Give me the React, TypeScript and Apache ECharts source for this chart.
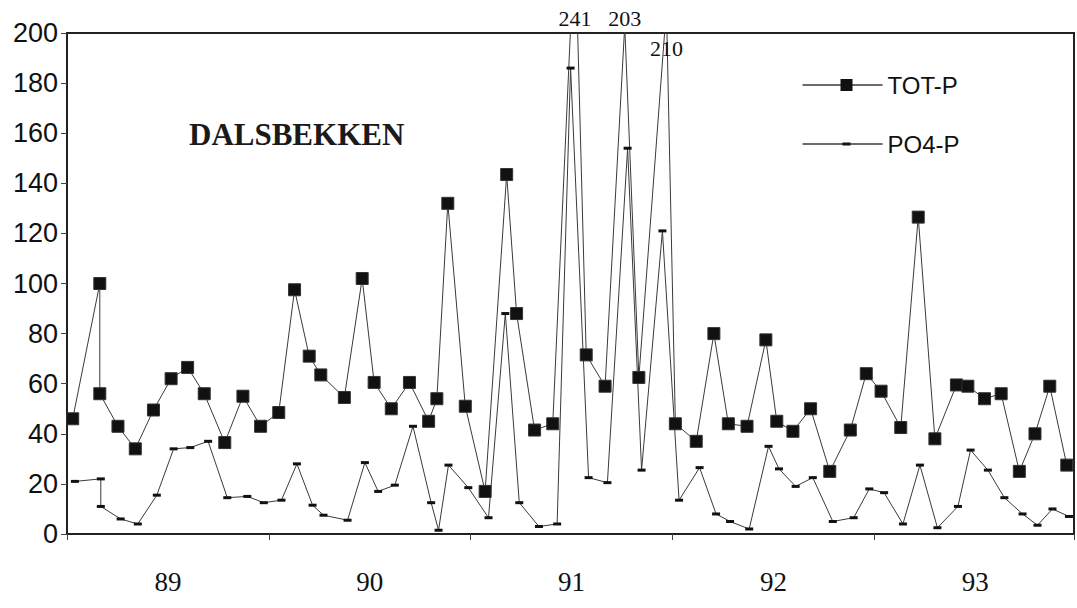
import React, { useEffect, useRef } from "react";
import * as echarts from "echarts";

// x = months since January 1989
const TOT_MONTH = [0.34, 1.95, 1.95, 3.03, 4.06, 5.14, 6.19, 7.17, 8.16, 9.38, 10.46, 11.51, 12.59, 13.53, 14.4, 15.09, 16.49, 17.55, 18.26, 19.28, 20.36, 21.5, 21.99, 22.64, 23.68, 24.86, 26.14, 26.73, 27.8, 28.88, 30.2, 30.87, 31.99, 33.16, 34.0, 35.64, 36.17, 37.41, 38.46, 39.32, 40.43, 41.55, 42.2, 43.16, 44.21, 45.35, 46.57, 47.52, 48.4, 49.57, 50.61, 51.6, 52.88, 53.56, 54.55, 55.54, 56.62, 57.55, 58.43, 59.44];
const TOT_P = [46, 100, 56, 43, 34, 49.5, 62, 66.5, 56, 36.5, 55, 43, 48.5, 97.5, 71, 63.5, 54.5, 102, 60.5, 50, 60.5, 45, 54, 132, 51, 17, 143.5, 88, 41.5, 44, 241, 71.5, 59, 203, 62.5, 210, 44, 37, 80, 44, 43, 77.5, 45, 41, 50, 25, 41.5, 64, 57, 42.5, 126.5, 38, 59.5, 59, 54, 56, 25, 40, 59, 27.5];

const PO4_MONTH = [0.47, 2.01, 2.01, 3.19, 4.21, 5.34, 6.34, 7.33, 8.39, 9.53, 10.72, 11.7, 12.75, 13.67, 14.6, 15.25, 16.68, 17.71, 18.5, 19.49, 20.57, 21.65, 22.09, 22.68, 23.86, 25.06, 26.06, 26.89, 28.06, 29.14, 29.94, 31.01, 32.13, 33.33, 34.16, 35.4, 36.39, 37.61, 38.59, 39.42, 40.56, 41.71, 42.33, 43.32, 44.34, 45.53, 46.77, 47.7, 48.58, 49.7, 50.71, 51.75, 52.97, 53.72, 54.75, 55.73, 56.81, 57.7, 58.59, 59.57];
const PO4_P = [21, 22, 11, 6, 4, 15.5, 34, 34.5, 37, 14.5, 15, 12.5, 13.5, 28, 11.5, 7.5, 5.5, 28.5, 17, 19.5, 43, 12.5, 1.5, 27.5, 18.5, 6.5, 88, 12.5, 3, 4, 186, 22.5, 20.5, 154, 25.5, 121, 13.5, 26.5, 8, 5, 2, 35, 26, 19, 22.5, 5, 6.5, 18, 16.5, 4, 27.5, 2.5, 11, 33.5, 25.5, 14.5, 8, 3.5, 10, 7];

const YEAR_LABELS = ["89", "90", "91", "92", "93"];
const SERIES_NAMES = ["TOT-P", "PO4-P"];
const TITLE = "DALSBEKKEN";
const Y_MAX = 200;
const PEAK_LABEL_LEVELS = [200, 200, 188];

const X_MAX = 59.87;
const TOT_SYMBOL_SIZE: [number, number] = [12, 12];
const PO4_SYMBOL_SIZE: [number, number] = [8, 3];

export default function App() {
  const ref = useRef<HTMLDivElement>(null);

  useEffect(() => {
    if (!ref.current) return;
    const chart = echarts.init(ref.current, null, { renderer: "svg" });

    const totData = TOT_MONTH.map((m, i) => [m, TOT_P[i]]);
    const po4Data = PO4_MONTH.map((m, i) => [m, PO4_P[i]]);

    const peaks: any[] = [];
    TOT_P.forEach((v, i) => {
      if (v > Y_MAX) {
        const level = PEAK_LABEL_LEVELS[peaks.length] ?? Y_MAX;
        peaks.push({ coord: [TOT_MONTH[i], level], value: v });
      }
    });

    const sans = "'Liberation Sans', Arial, sans-serif";
    const serif = "'Liberation Serif', 'Times New Roman', serif";
    const lineColor = "#3a3a3a";

    const legendItem = (name: string, y: number, size: [number, number]) => ({
      type: "group",
      left: 800,
      top: y - 11,
      children: [
        {
          type: "line",
          shape: { x1: 0, y1: 13, x2: 80, y2: 13 },
          style: { stroke: lineColor, lineWidth: 1.5 },
        },
        {
          type: "rect",
          shape: { x: 44 - size[0] / 2, y: 13 - size[1] / 2, width: size[0], height: size[1] },
          style: { fill: "#111" },
        },
        {
          type: "text",
          x: 85,
          y: 13,
          style: {
            text: name,
            fontFamily: sans,
            fontSize: 24,
            fill: "#111",
            verticalAlign: "middle",
          },
        },
      ],
    });

    chart.setOption({
      animation: false,
      backgroundColor: "#ffffff",
      grid: {
        left: 67,
        right: -3,
        top: 33,
        bottom: 74,
        show: true,
        borderColor: "#222",
        borderWidth: 2,
        containLabel: false,
      },
      graphic: [
        {
          type: "text",
          left: 189,
          top: 119,
          style: {
            text: TITLE,
            fontFamily: serif,
            fontWeight: "bold",
            fontSize: 31,
            fill: "#1a1a1a",
          },
        },
        legendItem(SERIES_NAMES[0], 84, TOT_SYMBOL_SIZE),
        legendItem(SERIES_NAMES[1], 143, PO4_SYMBOL_SIZE),
      ],
      xAxis: [
        {
          type: "value",
          min: 0,
          max: X_MAX,
          interval: 12,
          axisLine: { show: true, lineStyle: { color: "#222", width: 2 } },
          axisTick: { show: true, length: 6, lineStyle: { color: "#444", width: 1 } },
          axisLabel: { show: false },
          splitLine: { show: false },
        },
        {
          type: "value",
          min: 0,
          max: X_MAX,
          interval: 6,
          position: "bottom",
          axisLine: { show: false },
          axisTick: { show: false },
          splitLine: { show: false },
          axisLabel: {
            show: true,
            margin: 34,
            fontFamily: serif,
            fontSize: 27,
            color: "#111",
            formatter: (v: number) => {
              const r = Math.round(v);
              if (r % 12 === 6) return YEAR_LABELS[(r - 6) / 12] ?? "";
              return "";
            },
          },
        },
      ],
      yAxis: {
        type: "value",
        min: 0,
        max: Y_MAX,
        interval: 20,
        axisLine: { show: true, lineStyle: { color: "#222", width: 2 } },
        axisTick: { show: true, length: 6, lineStyle: { color: "#444", width: 1 } },
        axisLabel: { fontFamily: sans, fontSize: 27, color: "#111", margin: 9 },
        splitLine: { show: false },
      },
      series: [
        {
          name: SERIES_NAMES[0],
          type: "line",
          xAxisIndex: 0,
          data: totData,
          clip: true,
          symbol: "rect",
          symbolSize: TOT_SYMBOL_SIZE,
          itemStyle: { color: "#111", borderColor: "#333", borderWidth: 1 },
          lineStyle: { color: lineColor, width: 1 },
          markPoint: {
            symbol: "circle",
            symbolSize: 0,
            silent: true,
            label: {
              show: true,
              position: "top",
              distance: 4,
              formatter: "{c}",
              fontFamily: serif,
              fontSize: 22,
              color: "#111",
            },
            data: peaks,
          },
        },
        {
          name: SERIES_NAMES[1],
          type: "line",
          xAxisIndex: 0,
          data: po4Data,
          clip: true,
          symbol: "rect",
          symbolSize: PO4_SYMBOL_SIZE,
          itemStyle: { color: "#111" },
          lineStyle: { color: lineColor, width: 1 },
        },
      ],
    });

    return () => chart.dispose();
  }, []);

  return (
    <div
      ref={ref}
      style={{ position: "fixed", left: 0, top: 0, width: 1077, height: 608, background: "#fff" }}
    />
  );
}
